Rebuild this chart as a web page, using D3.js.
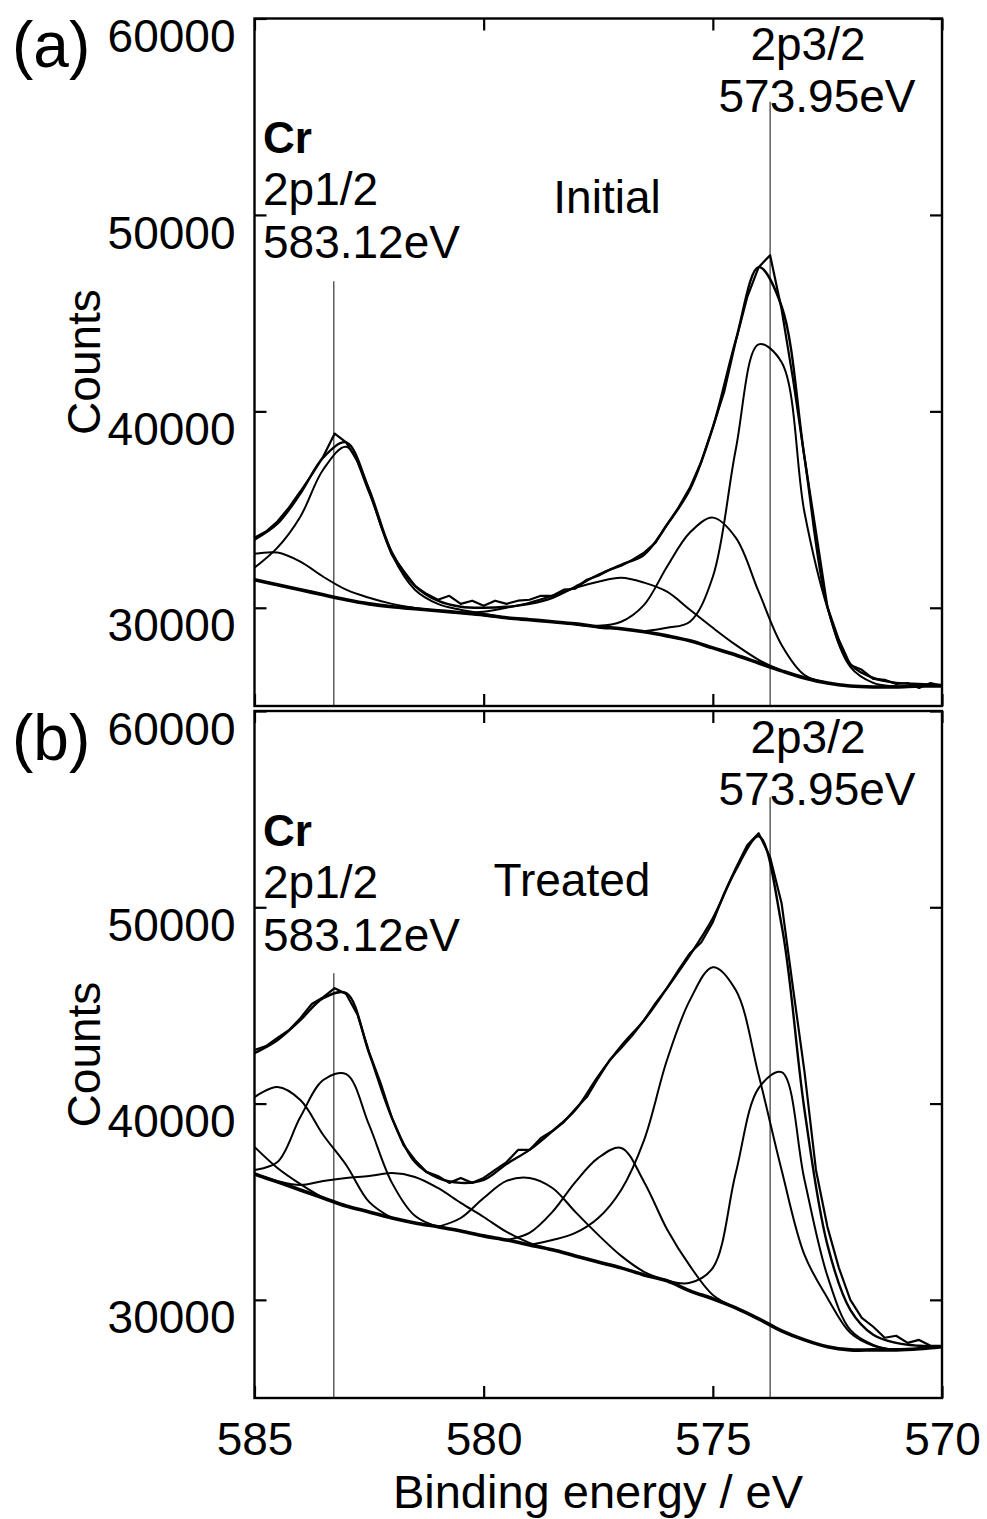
<!DOCTYPE html>
<html>
<head>
<meta charset="utf-8">
<script src="https://cdn.jsdelivr.net/npm/d3@7"></script>
<style>
body { margin: 0; background: #fff; }
text { font-family: "Liberation Sans", Arial, sans-serif; fill: #000; }
</style>
</head>
<body>
<div id="chart"></div>
<script>
// binding energy grids (eV)
var energy = [585, 584.5, 584, 583.5, 583, 582.5, 582, 581.5, 581, 580.5, 580, 579.5, 579, 578.5, 578,
  577.5, 577, 576.5, 576, 575.5, 575, 574.5, 574, 573.5, 573, 572.5, 572, 571.5, 571, 570.5, 570];
var energyRaw = [585, 584.75, 584.5, 584.25, 584, 583.75, 583.5, 583.25, 583, 582.75, 582.5, 582.25, 582,
  581.75, 581.5, 581.25, 581, 580.75, 580.5, 580.25, 580, 579.75, 579.5, 579.25, 579, 578.75, 578.5,
  578.25, 578, 577.75, 577.5, 577.25, 577, 576.75, 576.5, 576.25, 576, 575.75, 575.5, 575.25, 575,
  574.75, 574.5, 574.25, 574, 573.75, 573.5, 573.25, 573, 572.75, 572.5, 572.25, 572, 571.75, 571.5,
  571.25, 571, 570.75, 570.5, 570.25, 570];

var yTicks = [30000, 40000, 50000, 60000];
var xTicks = [585, 580, 575, 570];

// (a) Initial
var rawInitial = [33570, 33880, 34390, 35100, 35920, 36780, 37700, 38870, 38420, 37450, 36020, 34230, 32700,
  31890, 31120, 30710, 30410, 30610, 30200, 30360, 30100, 30360, 30200, 30360, 30410, 30610, 30610,
  30920, 30970, 31430, 31630, 31940, 32140, 32450, 32810, 33320, 34230, 35100, 36120, 37450, 39180,
  41020, 43570, 45810, 47340, 47950, 45200, 41630, 37650, 33880, 30050, 28370, 27090, 26840, 26380,
  26330, 26120, 26170, 25920, 26170, 26020];
var fitInitial = [33470, 34280, 35810, 37650, 38420, 36020, 32810, 31120, 30360, 30050, 30000, 30050, 30200,
  30510, 31070, 31680, 32190, 32700, 34230, 36020, 39180, 43620, 47340, 45350, 37650, 30050, 27140,
  26430, 26180, 26120, 26070];
var bgInitial = [31430, 31170, 30920, 30660, 30410, 30200, 30050, 29950, 29850, 29750, 29640, 29490, 29390,
  29290, 29180, 29030, 28930, 28780, 28570, 28320, 27960, 27600, 27190, 26790, 26430, 26170, 26020,
  25970, 25970, 26020, 26020];
var initPeak1 = [32040, 33060, 34640, 37040, 38200, 35870, 32700, 30920, 30200, 29900, 29690, 29490, null,
  null, null, null, null, null, null, null, null, null, null, null, null, null, null, null, null, null, null];
var initPeak2 = [32750, 32810, 32350, 31580, 30920, 30510, 30200, 29990, 29850, null, null, null, null,
  null, null, null, null, null, null, null, null, null, null, null, null, null, null, null, null, null, null];
var initPeak3 = [null, null, null, null, null, null, null, null, null, 29750, 29800, 30000, 30260, 30610,
  31020, 31330, 31530, 31280, 30820, 29900, 28980, 28110, 27350, 26790, null, null, null, null, null, null, null];
var initPeak4 = [null, null, null, null, null, null, null, null, null, null, null, null, null, null, 29180,
  29080, 29290, 30150, 32090, 33830, 34590, 33570, 30820, 28110, 26580, 26200, null, null, null, null, null];
var initPeak5 = [null, null, null, null, null, null, null, null, null, null, null, null, null, null, null,
  null, null, 28800, 28980, 29290, 31580, 38060, 43410, 42500, 34850, 30000, 26990, 26180, 26000, 26030, 26030];
var initMarkers = [[583.27, 46630], [573.75, 55760]];

// (b) Treated
var rawTreated = [42730, 42930, 43340, 43740, 44350, 45070, 45420, 45880, 45580, 44510, 42620, 41050, 39260,
  37890, 37130, 36520, 36310, 35960, 36210, 35960, 36210, 36620, 37020, 37640, 37640, 38250, 38600,
  39060, 39720, 40330, 41300, 42220, 42830, 43490, 44250, 45120, 45880, 46800, 47660, 48220, 49240,
  50720, 51990, 53160, 53770, 52550, 50210, 45880, 41610, 36620, 33720, 31630, 30000, 29080, 28630,
  28070, 28170, 27810, 27960, 27660, 27660];
var fitTreated = [42570, 43230, 44250, 45370, 45630, 42570, 39260, 37020, 36210, 35960, 36110, 36920, 37640,
  38600, 39670, 41400, 42930, 44250, 45880, 47560, 49440, 51890, 53620, 49090, 39670, 32800, 29490,
  28220, 27810, 27660, 27610];
var bgTreated = [36410, 36010, 35600, 35190, 34780, 34480, 34170, 33920, 33720, 33510, 33260, 33050, 32800,
  32550, 32240, 31930, 31630, 31270, 30970, 30460, 30050, 29590, 29030, 28420, 27960, 27610, 27450,
  27450, 27450, 27510, 27610];
var treatPeak1 = [37790, 36720, 35900, 35190, null, null, null, null, null, null, null, null, null, null, null,
  null, null, null, null, null, null, null, null, null, null, null, null, null, null, null, null];
var treatPeak2 = [40330, 40840, 40180, 38400, 36870, 34990, 34170, null, null, null, null, null, null, null,
  null, null, null, null, null, null, null, null, null, null, null, null, null, null, null, null, null];
var treatPeak3 = [36620, 37020, 39310, 41200, 41500, 38910, 35960, 34280, 33720, null, null, null, null, null,
  null, null, null, null, null, null, null, null, null, null, null, null, null, null, null, null, null];
var treatPeak4 = [36410, 36050, 35850, 36060, 36210, 36310, 36460, 36260, 35700, 34940, 34220, 33460, 32900,
  32550, null, null, null, null, null, null, null, null, null, null, null, null, null, null, null, null, null];
var treatPeak5 = [null, null, null, null, null, null, null, null, 33720, 34170, 35190, 36060, 36210, 35700,
  34480, 33310, 32240, 31430, 30970, null, null, null, null, null, null, null, null, null, null, null, null];
var treatPeak6 = [null, null, null, null, null, null, null, null, null, null, null, 33050, 33410, 34480,
  36000, 37230, 37740, 36010, 33600, 31730, 30250, 29590, null, null, null, null, null, null, null, null, null];
var treatPeak7 = [null, null, null, null, null, null, null, null, null, null, null, null, 32800, 33050,
  33410, 34170, 35600, 38140, 42220, 45270, 46950, 45780, 41450, 36620, 32290, 30100, 28320, 27660,
  27450, 27510, 27610];
var treatPeak8 = [null, null, null, null, null, null, null, null, null, null, null, null, null, null, null,
  null, null, null, 30970, 30870, 31630, 36460, 40790, 41600, 36110, 31220, 28470, 27710, 27450, 27510, 27610];
var treatMarkers = [[583.27, 46640], [573.75, 55600]];

var width = 987, height = 1519;
var left = 254.5, right = 942;

var svg = d3.select('#chart').append('svg')
    .attr('width', width)
    .attr('height', height);

var x = d3.scaleLinear().domain([585, 570]).range([left, right]);

var panels = [
  { key: 'a', top: 18.5, bottom: 706, tag: '(a)', title: 'Initial', titleX: 607, titleY: 213,
    raw: rawInitial, fit: fitInitial, bg: bgInitial,
    peaks: [initPeak1, initPeak2, initPeak3, initPeak4, initPeak5], markers: initMarkers },
  { key: 'b', top: 711, bottom: 1398, tag: '(b)', title: 'Treated', titleX: 572, titleY: 203,
    raw: rawTreated, fit: fitTreated, bg: bgTreated,
    peaks: [treatPeak1, treatPeak2, treatPeak3, treatPeak4, treatPeak5, treatPeak6, treatPeak7, treatPeak8],
    markers: treatMarkers }
];

panels.forEach(function(p, i) {
  var y = d3.scaleLinear().domain([25000, 60000]).range([p.bottom, p.top]);
  var g = svg.append('g');
  var off = p.top - 18.5;

  g.append('clipPath').attr('id', 'clip-' + p.key)
    .append('rect')
    .attr('x', left).attr('y', p.top)
    .attr('width', right - left).attr('height', p.bottom - p.top);

  var plot = g.append('g').attr('clip-path', 'url(#clip-' + p.key + ')');

  var smooth = d3.line()
      .defined(function(d) { return d[1] != null; })
      .x(function(d) { return x(d[0]); })
      .y(function(d) { return y(d[1]); })
      .curve(d3.curveCatmullRom.alpha(0.5));
  var jagged = d3.line()
      .x(function(d) { return x(d[0]); })
      .y(function(d) { return y(d[1]); });

  function pairs(xs, vs) { return xs.map(function(e, k) { return [e, vs[k]]; }); }

  // peak position markers
  plot.selectAll('.marker')
    .data(p.markers)
    .enter().append('line')
    .attr('x1', function(d) { return x(d[0]); })
    .attr('x2', function(d) { return x(d[0]); })
    .attr('y1', function(d) { return y(d[1]); })
    .attr('y2', p.bottom)
    .style('stroke', '#444')
    .style('stroke-width', 1.3);

  p.peaks.forEach(function(pk) {
    plot.append('path').datum(pairs(energy, pk))
      .attr('d', smooth)
      .style('fill', 'none').style('stroke', '#000').style('stroke-width', 2);
  });

  plot.append('path').datum(pairs(energy, p.bg))
    .attr('d', smooth)
    .style('fill', 'none').style('stroke', '#000').style('stroke-width', 3.6);

  plot.append('path').datum(pairs(energy, p.fit))
    .attr('d', smooth)
    .style('fill', 'none').style('stroke', '#000').style('stroke-width', 2.4);

  plot.append('path').datum(pairs(energyRaw, p.raw))
    .attr('d', jagged)
    .style('fill', 'none').style('stroke', '#000').style('stroke-width', 2.2)
    .style('stroke-linejoin', 'round');

  // frame
  g.append('rect')
    .attr('x', left).attr('y', p.top)
    .attr('width', right - left).attr('height', p.bottom - p.top)
    .style('fill', 'none').style('stroke', '#000').style('stroke-width', 2.4);

  // inner ticks
  var yl = g.append('g').attr('transform', 'translate(' + left + ',0)')
    .call(d3.axisLeft(y).tickValues(yTicks).tickSizeInner(-12).tickSizeOuter(0)
      .tickPadding(19).tickFormat(d3.format('d')));
  yl.select('.domain').remove();
  yl.selectAll('line').style('stroke-width', 2.2);
  yl.selectAll('text')
    .attr('dy', '0.72em')
    .style('font-size', '46px');

  var yr = g.append('g').attr('transform', 'translate(' + right + ',0)')
    .call(d3.axisRight(y).tickValues(yTicks).tickSizeInner(-12).tickSizeOuter(0).tickFormat(''));
  yr.select('.domain').remove();
  yr.selectAll('line').style('stroke-width', 2.2);

  var xt = g.append('g').attr('transform', 'translate(0,' + p.top + ')')
    .call(d3.axisTop(x).tickValues(xTicks).tickSizeInner(-12).tickSizeOuter(0).tickFormat(''));
  xt.select('.domain').remove();
  xt.selectAll('line').style('stroke-width', 2.2);

  var xb = g.append('g').attr('transform', 'translate(0,' + p.bottom + ')')
    .call(d3.axisBottom(x).tickValues(xTicks).tickSizeInner(-12).tickSizeOuter(0)
      .tickFormat(i === 1 ? d3.format('d') : ''));
  xb.select('.domain').remove();
  xb.selectAll('line').style('stroke-width', 2.2);
  xb.selectAll('text')
    .attr('y', 24)
    .attr('dy', '0.71em')
    .style('font-size', '46px');

  // labels
  g.append('text')
    .attr('x', 12).attr('y', 67 + off)
    .style('font-size', '64px')
    .text(p.tag);

  g.append('text')
    .attr('transform', 'translate(100,' + (362 + off) + ') rotate(-90)')
    .attr('text-anchor', 'middle')
    .style('font-size', '46px')
    .text('Counts');

  var lp = g.append('text')
    .style('font-size', '46px');
  lp.append('tspan').attr('x', 263).attr('y', 153 + off)
    .style('font-weight', 'bold').style('font-size', '44px').text('Cr');
  lp.append('tspan').attr('x', 263).attr('y', 205 + off).text('2p1/2');
  lp.append('tspan').attr('x', 263).attr('y', 258 + off).text('583.12eV');

  var rp = g.append('text')
    .attr('text-anchor', 'middle')
    .style('font-size', '46px');
  rp.append('tspan').attr('x', 808).attr('y', 60 + off).text('2p3/2');
  rp.append('tspan').attr('x', 817).attr('y', 112 + off).text('573.95eV');

  g.append('text')
    .attr('x', p.titleX).attr('y', p.titleY + off)
    .attr('text-anchor', 'middle')
    .style('font-size', '46px')
    .text(p.title);
});

svg.append('text')
  .attr('x', 598).attr('y', 1508)
  .attr('text-anchor', 'middle')
  .style('font-size', '47px')
  .text('Binding energy / eV');
</script>
</body>
</html>
